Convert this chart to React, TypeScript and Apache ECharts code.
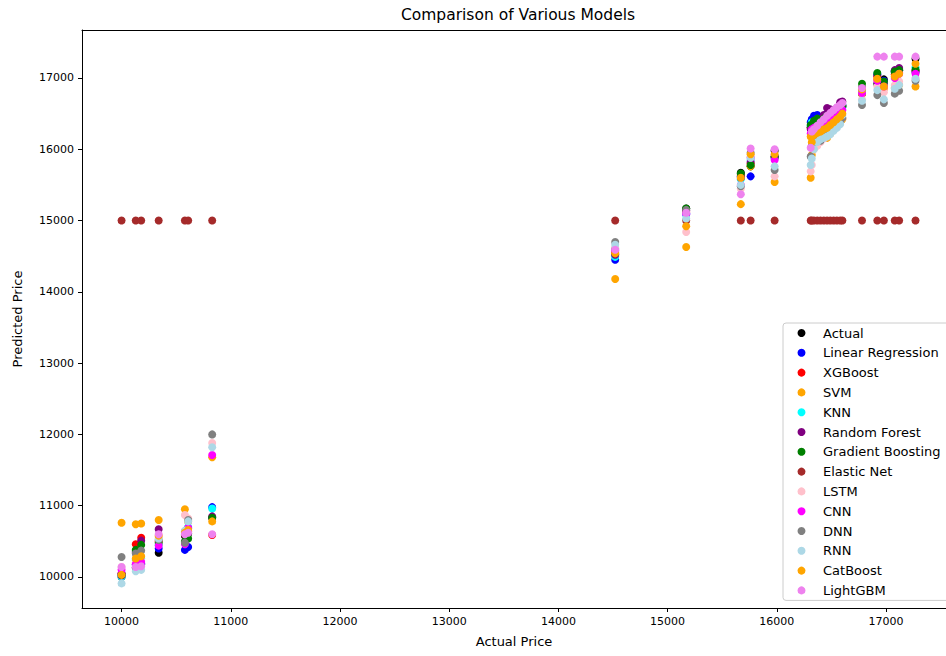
import React, { useEffect, useRef } from "react";
import * as echarts from "echarts";

const FONT = "DejaVu Sans";

const X_TICKS = [10000, 11000, 12000, 13000, 14000, 15000, 16000, 17000];
const Y_TICKS = [10000, 11000, 12000, 13000, 14000, 15000, 16000, 17000];

// Actual prices of the test points (x axis)
const ACTUAL = [10000, 10130, 10180, 10340, 10580, 10610, 10830, 14520, 15170, 15670, 15760, 15980, 16310, 16320, 16340, 16370, 16400, 16430, 16460, 16490, 16520, 16550, 16580, 16600, 16780, 16920, 16980, 17080, 17120, 17270];

const LINEAR = [10050, 10170, 10190, 10400, 10380, 10420, 10980, 14450, 15100, 15620, 15620, 15900, 16380, 16420, 16470, 16480, 16420, 16460, 16500, 16520, 16540, 16560, 16600, 16620, 16830, 17050, 16960, 17090, 17110, 17080];
const XGB = [10050, 10460, 10550, 10500, 10600, 10640, 10590, 14560, 15120, 15640, 15800, 15880, 16300, 16350, 16380, 16400, 16380, 16420, 16480, 16500, 16530, 16560, 16580, 16600, 16850, 17020, 16900, 17050, 17080, 17100];
const SVM = [10760, 10740, 10750, 10800, 10950, 10780, 11680, 14180, 14630, 15230, 15760, 15540, 15600, 15920, 16130, 16150, 16180, 16200, 16160, 16220, 16280, 16330, 16380, 16420, 16780, 16980, 16850, 16860, 16900, 16880];
const KNN = [10000, 10240, 10260, 10450, 10620, 10700, 10960, 14490, 15080, 15580, 15850, 15870, 16330, 16380, 16390, 16420, 16400, 16440, 16470, 16490, 16510, 16540, 16570, 16590, 16820, 17060, 16920, 17100, 17130, 17150];
const RF = [10020, 10350, 10510, 10670, 10640, 10680, 10850, 14520, 15140, 15600, 15820, 15900, 16280, 16300, 16350, 16380, 16420, 16480, 16580, 16560, 16540, 16580, 16660, 16670, 16860, 17040, 16930, 17110, 17140, 17100];
const GB = [10030, 10380, 10450, 10480, 10500, 10540, 10830, 14600, 15170, 15660, 15780, 15890, 16340, 16320, 16400, 16430, 16380, 16430, 16470, 16500, 16520, 16550, 16580, 16610, 16920, 17070, 16950, 17090, 17110, 17120];
const ELASTIC = [15000, 15000, 15000, 15000, 15000, 15000, 15000, 15000, 15000, 15000, 15000, 15000, 15000, 15000, 15000, 15000, 15000, 15000, 15000, 15000, 15000, 15000, 15000, 15000, 15000, 15000, 15000, 15000, 15000, 15000];
const LSTM = [10140, 10200, 10230, 10560, 10870, 10820, 11880, 14620, 14840, 15450, 15900, 15620, 15690, 15780, 16000, 16050, 16100, 16150, 16200, 16250, 16300, 16340, 16400, 16440, 16700, 16880, 16800, 16900, 16950, 17000];
const CNN = [10100, 10180, 10210, 10440, 10460, 10690, 11710, 14580, 15090, 15500, 15880, 15850, 16220, 16280, 16300, 16320, 16340, 16380, 16420, 16440, 16470, 16490, 16520, 16550, 16790, 16960, 16880, 17000, 17060, 17060];
const DNN = [10280, 10330, 10370, 10520, 10480, 10800, 12000, 14700, 15150, 15480, 15950, 15710, 15900, 16050, 16100, 16150, 16120, 16170, 16200, 16240, 16290, 16330, 16380, 16440, 16620, 16760, 16650, 16780, 16820, 16960];
const RNN = [9910, 10080, 10100, 10540, 10650, 10780, 11820, 14660, 15030, 15500, 15880, 15760, 15780, 15870, 16000, 16100, 16140, 16160, 16180, 16210, 16260, 16300, 16350, 16480, 16680, 16830, 16700, 16850, 16900, 16990];
const CATBOOST = [10030, 10260, 10290, 10580, 10620, 10660, 10780, 14540, 14920, 15600, 15930, 15930, 16180, 16100, 16200, 16230, 16250, 16280, 16300, 16340, 16380, 16420, 16460, 16500, 16840, 16990, 16880, 17020, 17060, 17200];
const LIGHTGBM = [10140, 10140, 10150, 10600, 10600, 10620, 10600, 14590, 15110, 15370, 16010, 16000, 16020, 16250, 16280, 16330, 16380, 16420, 16470, 16510, 16550, 16590, 16620, 16650, 16860, 17300, 17300, 17300, 17300, 17300];

const MODELS: [string, number[], string][] = [
  ["Actual", ACTUAL, "#000000"],
  ["Linear Regression", LINEAR, "#0000ff"],
  ["XGBoost", XGB, "#ff0000"],
  ["SVM", SVM, "#ffa500"],
  ["KNN", KNN, "#00ffff"],
  ["Random Forest", RF, "#800080"],
  ["Gradient Boosting", GB, "#008000"],
  ["Elastic Net", ELASTIC, "#a52a2a"],
  ["LSTM", LSTM, "#ffc0cb"],
  ["CNN", CNN, "#ff00ff"],
  ["DNN", DNN, "#808080"],
  ["RNN", RNN, "#add8e6"],
  ["CatBoost", CATBOOST, "#ffa500"],
  ["LightGBM", LIGHTGBM, "#ee82ee"],
];

const X_MIN = 9638;
const X_MAX = 17549;

export default function App() {
  const ref = useRef<HTMLDivElement>(null);
  useEffect(() => {
    if (!ref.current) return;
    const chart = echarts.init(ref.current, null, { renderer: "svg" });
    const series = MODELS.map(([name, vals, color]) => ({
      name,
      type: "scatter",
      symbol: "circle",
      symbolSize: 8,
      xAxisIndex: 0,
      itemStyle: { color, opacity: 1 },
      emphasis: { disabled: true },
      data: ACTUAL.map((x, i) => [x, vals[i]]),
    }));
    const plain = (v: number) => String(v);
    chart.setOption({
      animation: false,
      textStyle: { fontFamily: FONT },
      title: {
        text: "Comparison of Various Models",
        left: 518,
        top: 7,
        textAlign: "center",
        padding: 0,
        textStyle: { fontFamily: FONT, fontSize: 15.5, fontWeight: "normal", color: "#000" },
      },
      grid: {
        left: 82,
        top: 30,
        width: 864,
        height: 578,
        show: false,
      },
      legend: {
        orient: "vertical",
        left: 783,
        top: 323,
        padding: [3, 12, 3, 14.5],
        itemWidth: 33,
        itemHeight: 8,
        itemGap: 5.8,
        icon: "circle",
        selectedMode: false,
        backgroundColor: "rgba(255,255,255,0.8)",
        borderColor: "#cccccc",
        borderWidth: 1,
        borderRadius: 3,
        textStyle: { fontFamily: FONT, fontSize: 13, color: "#000", lineHeight: 14 },
        data: MODELS.map((m) => m[0]),
      },
      xAxis: [
        {
          type: "value",
          min: X_MIN,
          max: X_MAX,
          name: "Actual Price",
          nameLocation: "middle",
          nameGap: 27,
          nameTextStyle: { fontFamily: FONT, fontSize: 13, color: "#000" },
          axisLine: { show: true, onZero: false, lineStyle: { color: "#000", width: 1 } },
          axisTick: { show: true, length: 4, lineStyle: { color: "#000" }, customValues: X_TICKS },
          axisLabel: { fontFamily: FONT, fontSize: 11, color: "#000", margin: 8, customValues: X_TICKS, formatter: plain },
          splitLine: { show: false },
        },
        {
          type: "value",
          position: "top",
          min: X_MIN,
          max: X_MAX,
          axisLine: { show: true, onZero: false, lineStyle: { color: "#000", width: 1 } },
          axisTick: { show: false },
          axisLabel: { show: false },
          splitLine: { show: false },
        },
      ],
      yAxis: {
        type: "value",
        min: 9565,
        max: 17673,
        name: "Predicted Price",
        nameLocation: "middle",
        nameGap: 58,
        nameRotate: 90,
        nameTextStyle: { fontFamily: FONT, fontSize: 13, color: "#000" },
        axisLine: { show: true, onZero: false, lineStyle: { color: "#000", width: 1 } },
        axisTick: { show: true, length: 4, lineStyle: { color: "#000" }, customValues: Y_TICKS },
        axisLabel: { fontFamily: FONT, fontSize: 11, color: "#000", margin: 8, customValues: Y_TICKS, formatter: plain },
        splitLine: { show: false },
      },
      series,
    });
    return () => chart.dispose();
  }, []);
  return (
    <div
      ref={ref}
      style={{ position: "fixed", left: 0, top: 0, width: 946, height: 656, background: "#fff" }}
    />
  );
}
